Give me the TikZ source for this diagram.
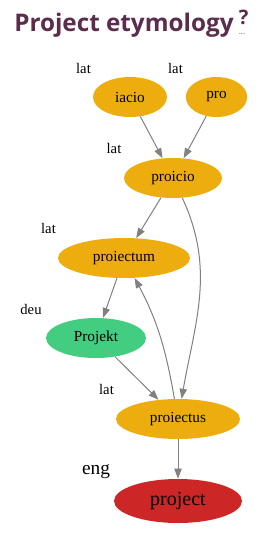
\documentclass[tikz,border=0pt]{standalone}
\usepackage{fontspec}
\setmainfont{Liberation Serif}
\newfontfamily\titlefont{Open Sans}
\usetikzlibrary{shapes.geometric,arrows.meta}
\definecolor{orng}{HTML}{EEAD0E}
\definecolor{grn}{HTML}{43CD80}
\definecolor{rd}{HTML}{CD2626}
\definecolor{ttl}{HTML}{5A2D4C}
\definecolor{edg}{HTML}{808080}
\begin{document}
\begin{tikzpicture}[x=0.75pt,y=0.75pt,
  word/.style={ellipse,draw=none,inner sep=0pt,minimum height=30pt,font=\fontsize{11.5}{12}\selectfont},
  lang/.style={anchor=base,inner sep=0pt,font=\fontsize{11}{12}\selectfont},
  link/.style={draw=edg,line width=0.75pt,-{Triangle[length=7.5pt,width=5.5pt]}}]
\useasboundingbox (0,0) rectangle (266,-540);
\node[anchor=base west,inner sep=0pt,text=ttl,font=\titlefont\bfseries\fontsize{18.2}{20}\selectfont] (title) at (14,-31) {Project etymology};
\node[anchor=base west,inner sep=0pt,text=ttl,font=\titlefont\bfseries\fontsize{15}{16}\selectfont] (q) at (238.5,-24) {?};
\node[anchor=base west,inner sep=0pt,text=black!60,font=\titlefont\fontsize{6}{7}\selectfont] (dots) at (238.5,-34) {...};

\node[word,fill=orng,minimum width=55.5pt] (iacio) at (130,-97) {iacio};
\node[word,fill=orng,minimum width=46pt] (pro) at (216.5,-97) {pro};
\node[word,fill=orng,minimum width=73.5pt] (proicio) at (173,-178) {proicio};
\node[word,fill=orng,minimum width=99pt] (proiectum) at (124,-258) {proiectum};
\node[word,fill=grn,minimum width=75pt] (Projekt) at (96,-338) {Projekt};
\node[word,fill=orng,minimum width=93pt] (proiectus) at (178,-419) {proiectus};
\node[word,fill=rd,minimum width=96pt,minimum height=33pt,font=\fontsize{15}{16}\selectfont] (project) at (178,-501) {project};

\node[lang] (l1) at (83.5,-73) {lat};
\node[lang] (l2) at (175.5,-73) {lat};
\node[lang] (l3) at (114,-153) {lat};
\node[lang] (l4) at (48.5,-233) {lat};
\node[lang] (l5) at (31,-314) {deu};
\node[lang] (l6) at (106.5,-394) {lat};
\node[lang,font=\fontsize{14.5}{16}\selectfont] (l7) at (96,-474) {eng};

\draw[link] (iacio) -- (proicio);
\draw[link] (pro) -- (proicio);
\draw[link] (proicio) -- (proiectum);
\draw[link] (proicio) to[out=-65,in=80] (proiectus);
\draw[link] (proiectum) -- (Projekt);
\draw[link] (Projekt) -- (proiectus);
\draw[link] (proiectus) to[out=100,in=-62] (proiectum);
\draw[link] (proiectus) -- (project);
\end{tikzpicture}
\end{document}
